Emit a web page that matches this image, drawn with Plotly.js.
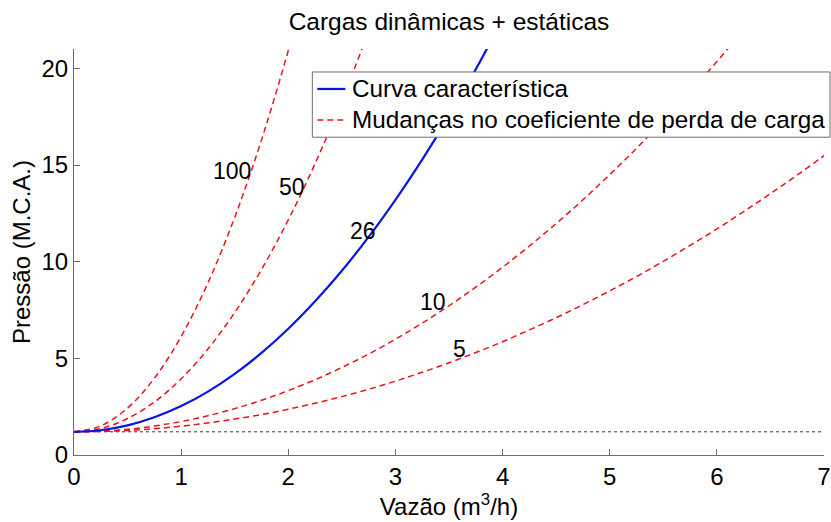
<!DOCTYPE html>
<html>
<head>
<meta charset="utf-8">
<script src="https://cdn.plot.ly/plotly-3.0.1.min.js"></script>
<style>html,body{margin:0;padding:0;background:#fff}#chart{width:831px;height:522px}</style>
</head>
<body>
<div id="chart"></div>
<script>
// Flow (m3/h) sample points
const vazao = [0,0.25,0.5,0.75,1,1.25,1.5,1.75,2,2.25,2.5,2.75,3,3.25,3.5,3.75,4,4.25,4.5,4.75,5,5.25,5.5,5.75,6,6.25,6.5,6.75,7];
// Pressure (M.C.A.)
const curva5   = [1.20,1.22,1.27,1.36,1.49,1.66,1.86,2.09,2.37,2.68,3.02,3.40,3.82,4.28,4.77,5.30,5.86,6.47,7.10,7.78,8.49,9.23,10.02,10.84,11.69,12.59,13.52,14.48,15.48];
const curva10  = [1.20,1.23,1.33,1.50,1.73,2.03,2.40,2.83,3.33,3.89,4.53,5.22,5.99,6.82,7.72,8.68,9.71,10.81,11.97,13.20,14.50,15.86,17.29,18.79,20.35,21.98];
const curva26  = [1.20,1.28,1.53,1.95,2.53,3.28,4.20,5.28,6.53,7.95,9.53,11.28,13.20,15.28,17.53,19.95,22.53];
const curva50  = [1.20,1.37,1.89,2.74,3.94,5.48,7.37,9.59,12.16,15.07,18.33,21.92];
const curva100 = [1.20,1.51,2.43,3.97,6.13,8.90,12.29,16.30,20.92,26.14];
const estatica = [1.2,1.2];
const estaticaX = [0,7];
// Curve labels
const rotulos  = ['100','50','26','10','5'];
const rotuloX  = [1.47,2.03,2.70,3.35,3.60];
const rotuloY  = [14.7,13.85,11.6,7.9,5.5];
// Legend labels
const legenda = ['Curva característica','Mudanças no coeficiente de perda de carga'];

const FONT = 'Liberation Sans, Arial, Helvetica, sans-serif';
const RED = '#e8141c', BLUE = '#0a14e6';
const redDash = {color:RED, width:1.5, dash:'6px,4px', shape:'spline'};

const traces = [
  {x:estaticaX, y:estatica, mode:'lines', line:{color:'#000', width:0.8, dash:'dot'}, showlegend:false, hoverinfo:'skip'},
  {x:vazao.slice(0,curva5.length), y:curva5, mode:'lines', line:redDash, name:legenda[1], showlegend:false},
  {x:vazao.slice(0,curva10.length), y:curva10, mode:'lines', line:redDash, name:legenda[1], showlegend:false},
  {x:vazao.slice(0,curva50.length), y:curva50, mode:'lines', line:redDash, name:legenda[1], showlegend:false},
  {x:vazao.slice(0,curva100.length), y:curva100, mode:'lines', line:redDash, name:legenda[1], showlegend:false},
  {x:vazao.slice(0,curva26.length), y:curva26, mode:'lines', line:{color:BLUE, width:2.2, shape:'spline'}, name:legenda[0], showlegend:false}
];

const annotations = rotulos.map((t,i)=>({x:rotuloX[i], y:rotuloY[i], text:t, showarrow:false, font:{family:FONT, size:23, color:'#000'}}));

// Legend box (MATLAB style), placed in paper coordinates
const LG = {x0:0.3178, x1:1.008, y0:0.7827, y1:0.9434, sx0:0.3244, sx1:0.3617, tx:0.3684, rows:[0.9016,0.8253]};
const shapes = [
  {type:'rect', xref:'paper', yref:'paper', x0:LG.x0, x1:LG.x1, y0:LG.y0, y1:LG.y1, fillcolor:'#fff', line:{color:'#6e6e6e', width:1}, layer:'above'},
  {type:'line', xref:'paper', yref:'paper', x0:LG.sx0, x1:LG.sx1, y0:LG.rows[0], y1:LG.rows[0], line:{color:BLUE, width:2.2}, layer:'above'},
  {type:'line', xref:'paper', yref:'paper', x0:LG.sx0, x1:LG.sx1, y0:LG.rows[1], y1:LG.rows[1], line:{color:RED, width:1.5, dash:'6px,4px'}, layer:'above'}
];
legenda.forEach((t,i)=>annotations.push({xref:'paper', yref:'paper', x:LG.tx, y:LG.rows[i], xanchor:'left', yanchor:'middle', text:t, showarrow:false, font:{family:FONT, size:24.3, color:'#000'}}));

const axisCommon = {
  showline:true, linecolor:'#6e6e6e', linewidth:1, mirror:false,
  ticks:'inside', ticklen:6, tickcolor:'#6e6e6e', tickwidth:1,
  showgrid:false, zeroline:false,
  tickfont:{family:FONT, size:24, color:'#000'}
};

const layout = {
  width:831, height:522,
  paper_bgcolor:'#fff', plot_bgcolor:'#fff',
  margin:{l:73.5, r:7, t:49, b:66.7, autoexpand:false},
  title:{text:'Cargas dinâmicas + estáticas', font:{family:FONT, size:24.5, color:'#000'}, x:0.5, xref:'paper', y:0.958, yref:'container', xanchor:'center', yanchor:'middle'},
  xaxis:Object.assign({}, axisCommon, {range:[0,7], tickvals:[0,1,2,3,4,5,6,7], title:{text:'Vazão (m<sup>3</sup>/h)', font:{family:FONT, size:24, color:'#000'}, standoff:4}}),
  yaxis:Object.assign({}, axisCommon, {range:[0,21], tickvals:[0,5,10,15,20], title:{text:'Pressão (M.C.A.)', font:{family:FONT, size:24, color:'#000'}, standoff:4}}),
  annotations:annotations,
  shapes:shapes,
  showlegend:false
};

Plotly.newPlot('chart', traces, layout, {displayModeBar:false, staticPlot:true});
</script>
</body>
</html>
